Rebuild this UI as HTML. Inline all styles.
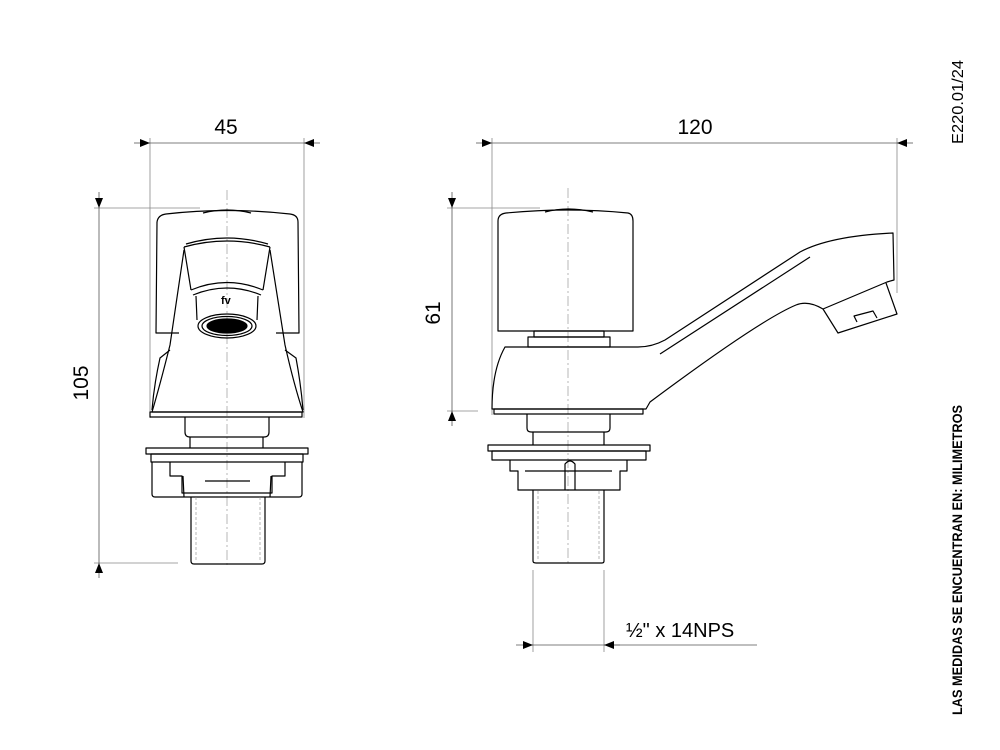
<!DOCTYPE html>
<html><head><style>
html,body{margin:0;padding:0;background:#fff;}
svg{display:block;}
text{font-family:"Liberation Sans",sans-serif;fill:#000;}
</style></head><body>
<svg width="1000" height="750" viewBox="0 0 1000 750" xmlns="http://www.w3.org/2000/svg">
<defs>
<marker id="a" viewBox="0 0 10 10" refX="10" refY="5" markerWidth="10" markerHeight="10" orient="auto-start-reverse" markerUnits="userSpaceOnUse"><path d="M0,1 L10,5 L0,9 Z" fill="#000"/></marker>
</defs>
<g stroke="#888" stroke-width="0.8" fill="none">
<line x1="150" y1="138" x2="150" y2="418"/>
<line x1="304" y1="138" x2="304" y2="418"/>
<line x1="94" y1="208" x2="200" y2="208"/>
<line x1="94" y1="563" x2="178" y2="563"/>
<line x1="492" y1="138" x2="492" y2="415"/>
<line x1="897" y1="138" x2="897" y2="293"/>
<line x1="447" y1="208" x2="540" y2="208"/>
<line x1="447" y1="411" x2="478" y2="411"/>
<line x1="533" y1="570" x2="533" y2="652"/>
<line x1="604" y1="570" x2="604" y2="652"/>
</g>
<g stroke="#555" stroke-width="0.8" fill="none">
<line x1="134" y1="143" x2="150" y2="143" marker-end="url(#a)"/>
<line x1="150" y1="143" x2="304" y2="143"/>
<line x1="320" y1="143" x2="304" y2="143" marker-end="url(#a)"/>
<line x1="99" y1="192" x2="99" y2="208" marker-end="url(#a)"/>
<line x1="99" y1="208" x2="99" y2="563"/>
<line x1="99" y1="578" x2="99" y2="563" marker-end="url(#a)"/>
<line x1="476" y1="143" x2="492" y2="143" marker-end="url(#a)"/>
<line x1="492" y1="143" x2="897" y2="143"/>
<line x1="913" y1="143" x2="897" y2="143" marker-end="url(#a)"/>
<line x1="452" y1="192" x2="452" y2="208" marker-end="url(#a)"/>
<line x1="452" y1="208" x2="452" y2="411"/>
<line x1="452" y1="426" x2="452" y2="411" marker-end="url(#a)"/>
<line x1="516" y1="645" x2="533" y2="645" marker-end="url(#a)"/>
<line x1="533" y1="645" x2="604" y2="645"/>
<line x1="757" y1="645" x2="604" y2="645"/>
<line x1="620" y1="645" x2="604" y2="645" marker-end="url(#a)"/>
</g>
<g stroke="#999" stroke-width="0.7" stroke-dasharray="10,3,2,3" fill="none">
<line x1="227" y1="190" x2="227" y2="568"/>
<line x1="568" y1="188" x2="568" y2="565"/>
</g>
<g stroke="#000" stroke-width="1.2" fill="none" stroke-linejoin="round">
<path d="M203,213 Q227,207 251,213"/>
<path d="M157,222 Q158,215 166,214 Q227,207 290,214 Q298,215 298,222 L299,333 L276,333"/>
<path d="M157,222 L156,333 L179,333"/>
<path d="M184,250 L170,345 Q160,385 152,412 L303,412 Q294,385 285,345 L270,250"/>
<path d="M170,350 L160,358 Q154,385 152,410"/>
<path d="M285,350 L296,358 Q301,385 303,410"/>
<rect x="150" y="412" width="152" height="5"/>
<path d="M186,244 Q227,232 268,244"/>
<path d="M184,247 Q227,235 270,247"/>
<path d="M184,247 L191,290 M270,247 L263,290"/>
<path d="M191,290 Q227,275 263,290"/>
<path d="M193,295 Q227,281 261,295"/>
<path d="M196,296 L197,320 M258,296 L257,320"/>
<ellipse cx="227" cy="326" rx="29" ry="12"/>
<ellipse cx="227" cy="326" rx="25" ry="9.5"/>
<ellipse cx="227" cy="326" rx="20" ry="7" fill="#000"/>
<path d="M185,417 L185,432 Q185,437 190,437 L264,437 Q269,437 269,432 L269,417"/>
<path d="M190,437 L190,448 M263,437 L263,448"/>
<rect x="146" y="448" width="162" height="6"/>
<rect x="151" y="454" width="152" height="8"/>
<path d="M152,462 L152,494 Q152,497 155,497 L299,497 Q302,497 302,494 L302,462"/>
<path d="M170,462 L170,476 L182,476 L182,493 L272,493 L272,476 L285,476 L285,462"/>
<path d="M183,476 L184,497 M271,476 L270,497"/>
<line x1="205" y1="481" x2="250" y2="481"/>
<path d="M191,497 L191,561 Q191,564 194,564 L262,564 Q265,564 265,561 L265,497"/>
</g>
<g stroke="#888" stroke-width="0.6" stroke-dasharray="3,2" fill="none">
<line x1="196" y1="497" x2="196" y2="560"/><line x1="260" y1="497" x2="260" y2="560"/>
</g>
<text x="221" y="304" font-size="11" font-weight="bold">fv</text>
<g stroke="#000" stroke-width="1.2" fill="none" stroke-linejoin="round">
<path d="M545,212 Q568,206 593,212"/>
<path d="M498,331 L498,221 Q498,214 506,213 Q568,207 628,213 Q633,214 633,221 L633,331 Z"/>
<rect x="534" y="331" width="70" height="6"/>
<rect x="528" y="337" width="82" height="10"/>
<path d="M505,347 L638,347 Q652,347 665,340 L800,252 Q830,236 893,233 L894,280 L887,282 L823,309 Q808,300 796,305 Q760,320 650,402 L646,409 L492,409 Q492,370 505,347 Z"/>
<path d="M660,354 L810,257"/>
<path d="M823,309 L838,333 L897,314 L886,283"/>
<path d="M857,322 L854,316 L873,311 L877,318"/>
<rect x="494" y="409" width="149" height="5"/>
<path d="M527,414 L527,428 Q527,432 531,432 L606,432 Q610,432 610,428 L610,414"/>
<path d="M533,432 L533,445 M604,432 L604,445"/>
<rect x="488" y="445" width="162" height="6"/>
<rect x="492" y="451" width="154" height="9"/>
<path d="M510,460 L510,471 L518,471 L518,490 L620,490 L620,471 L627,471 L627,460"/>
<path d="M565,490 L565,464 Q570,458 575,464 L575,490"/>
<line x1="525" y1="471" x2="612" y2="471"/>
<path d="M533,490 L533,561 Q533,563 536,563 L602,563 Q604,563 604,561 L604,490"/>
</g>
<g stroke="#888" stroke-width="0.6" stroke-dasharray="3,2" fill="none">
<line x1="538" y1="491" x2="538" y2="560"/><line x1="599" y1="491" x2="599" y2="560"/>
</g>
<text x="226" y="134" font-size="21" text-anchor="middle">45</text>
<text x="695" y="134" font-size="21" text-anchor="middle">120</text>
<text transform="translate(88,383) rotate(-90)" font-size="21" text-anchor="middle">105</text>
<text transform="translate(440,313) rotate(-90)" font-size="21" text-anchor="middle">61</text>
<text x="626" y="637" font-size="20">½" x 14NPS</text>
<text transform="translate(963,102) rotate(-90)" font-size="16" text-anchor="middle" textLength="84" lengthAdjust="spacingAndGlyphs">E220.01/24</text>
<text transform="translate(962,560) rotate(-90)" font-size="14" font-weight="bold" text-anchor="middle" textLength="310" lengthAdjust="spacingAndGlyphs">LAS MEDIDAS SE ENCUENTRAN EN: MILIMETROS</text>
</svg>
</body></html>
